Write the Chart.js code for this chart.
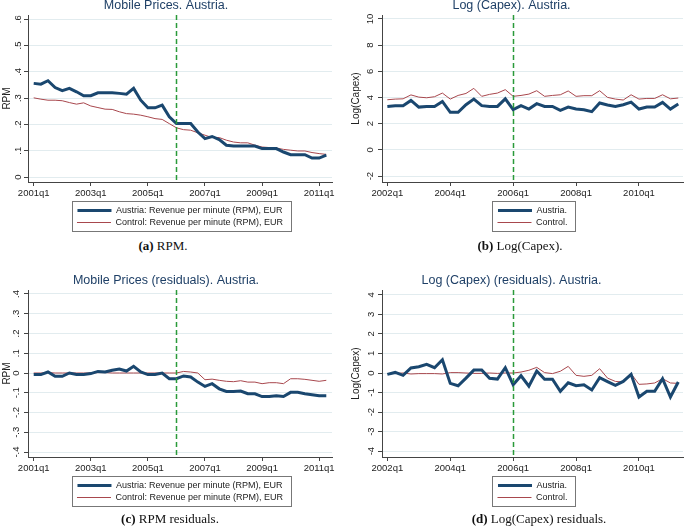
<!DOCTYPE html>
<html>
<head>
<meta charset="utf-8">
<script src="https://cdn.jsdelivr.net/npm/chart.js@4.4.0/dist/chart.umd.min.js"></script>
<style>
  body { margin: 0; background: #fff; width: 685px; height: 531px; overflow: hidden; position: relative; }
  .panel { position: absolute; }
  .cap { position: absolute; font-family: "Liberation Serif", "DejaVu Serif", serif; font-size: 13px; color: #111;
         transform: translate(-50%, -50%); white-space: nowrap; }
</style>
</head>
<body>
<div class="panel" style="left:0;top:-10px;width:342px;height:247px"><canvas id="chartA" data-wrap="260"></canvas></div>
<div class="panel" style="left:340px;top:-10px;width:345px;height:247px"><canvas id="chartB" data-wrap="110"></canvas></div>
<div class="panel" style="left:0;top:265px;width:342px;height:247px"><canvas id="chartC" data-wrap="260"></canvas></div>
<div class="panel" style="left:340px;top:265px;width:345px;height:247px"><canvas id="chartD" data-wrap="110"></canvas></div>

<div class="cap" style="left:163px;top:246px"><b>(a)</b> RPM.</div>
<div class="cap" style="left:520px;top:246px"><b>(b)</b> Log(Capex).</div>
<div class="cap" style="left:170px;top:519px"><b>(c)</b> RPM residuals.</div>
<div class="cap" style="left:539px;top:519px"><b>(d)</b> Log(Capex) residuals.</div>

<script>
// quarterly series, RPM panels start 2001q1, capex panels start 2002q1
const austriaRpm = [0.356, 0.353, 0.366, 0.340, 0.328, 0.337, 0.324, 0.309, 0.309, 0.320, 0.320, 0.320, 0.318, 0.315,
  0.337, 0.292, 0.263, 0.263, 0.273, 0.229, 0.203, 0.203, 0.203, 0.171, 0.146, 0.154, 0.142, 0.121, 0.118, 0.118,
  0.118, 0.118, 0.108, 0.108, 0.108, 0.095, 0.085, 0.085, 0.085, 0.072, 0.072, 0.083];
const controlRpm = [0.301, 0.296, 0.292, 0.292, 0.290, 0.283, 0.277, 0.282, 0.270, 0.264, 0.258, 0.257, 0.248, 0.241,
  0.239, 0.235, 0.229, 0.222, 0.219, 0.203, 0.187, 0.180, 0.178, 0.168, 0.159, 0.150, 0.150, 0.140, 0.133, 0.130,
  0.130, 0.121, 0.114, 0.112, 0.110, 0.105, 0.102, 0.099, 0.099, 0.093, 0.089, 0.086];

const austriaRpmRes = [-0.008, -0.008, 0.005, -0.017, -0.017, 0, -0.008, -0.008, -0.003, 0.008, 0.005, 0.014, 0.020, 0.010,
  0.034, 0.005, -0.008, -0.008, 0, -0.029, -0.029, -0.015, -0.020, -0.046, -0.068, -0.054, -0.080, -0.093, -0.093, -0.091,
  -0.105, -0.105, -0.119, -0.119, -0.115, -0.119, -0.098, -0.098, -0.105, -0.110, -0.115, -0.115];
const controlRpmRes = [0, 0, 0.002, 0, 0, 0, 0, 0, 0, 0.002, 0.002, 0, 0, 0, 0, 0, 0, 0, 0, 0,
  0, 0.008, 0.005, 0, -0.034, -0.031, -0.037, -0.042, -0.044, -0.039, -0.046, -0.046, -0.054, -0.049, -0.049, -0.054,
  -0.029, -0.029, -0.032, -0.037, -0.042, -0.037];

const austriaCapex = [3.32, 3.38, 3.38, 3.78, 3.27, 3.32, 3.32, 3.70, 2.87, 2.87, 3.45, 3.88, 3.38, 3.32, 3.32, 3.90,
  3.07, 3.38, 3.12, 3.53, 3.32, 3.32, 3.02, 3.27, 3.12, 3.07, 2.92, 3.58, 3.43, 3.32, 3.45, 3.65, 3.12, 3.27, 3.27,
  3.63, 3.12, 3.50];
const controlCapex = [3.83, 3.88, 3.90, 4.20, 4.03, 3.98, 4.06, 4.34, 3.88, 4.16, 4.31, 4.70, 4.09, 4.24, 4.34, 4.60,
  4.09, 4.16, 4.26, 4.52, 4.09, 4.16, 4.21, 4.50, 4.09, 4.14, 4.14, 4.52, 4.01, 3.88, 3.81, 4.21, 3.88, 3.93, 3.93,
  4.21, 3.90, 3.96];

const austriaCapexRes = [-0.07, 0.03, -0.12, 0.26, 0.32, 0.44, 0.27, 0.68, -0.53, -0.65, -0.26, 0.15, 0.15, -0.27, -0.31,
  0.27, -0.60, -0.14, -0.67, 0.10, -0.32, -0.32, -0.94, -0.50, -0.65, -0.60, -0.87, -0.24, -0.44, -0.63, -0.43, -0.07,
  -1.23, -0.94, -0.94, -0.29, -1.23, -0.46];
const controlCapexRes = [-0.03, -0.02, 0, -0.05, -0.03, -0.03, -0.03, -0.05, 0.02, 0.02, 0, -0.02, -0.02, 0, -0.02, 0,
  0, 0.05, 0.14, 0.29, 0.02, -0.03, 0.09, 0.34, -0.12, -0.17, -0.12, 0.22, -0.26, -0.43, -0.46, -0.03, -0.58, -0.56,
  -0.51, -0.29, -0.51, -0.53];

// x ticks (quarter index) and their labels
const rpmXTicks = [0, 8, 16, 24, 32, 40];
const rpmXLabels = ['2001q1', '2003q1', '2005q1', '2007q1', '2009q1', '2011q1'];
const capexXTicks = [0, 8, 16, 24, 32];
const capexXLabels = ['2002q1', '2004q1', '2006q1', '2008q1', '2010q1'];
const rpmTreat = 20;    // 2006q1
const capexTreat = 16;  // 2006q1

// y ticks
const rpmYTicks = [0, 0.1, 0.2, 0.3, 0.4, 0.5, 0.6];
const rpmYLabels = ['0', '.1', '.2', '.3', '.4', '.5', '.6'];
const capexYTicks = [-2, 0, 2, 4, 6, 8, 10];
const capexYLabels = ['-2', '0', '2', '4', '6', '8', '10'];
const rpmResYTicks = [-0.4, -0.3, -0.2, -0.1, 0, 0.1, 0.2, 0.3, 0.4];
const rpmResYLabels = ['-.4', '-.3', '-.2', '-.1', '0', '.1', '.2', '.3', '.4'];
const capexResYTicks = [-4, -3, -2, -1, 0, 1, 2, 3, 4];
const capexResYLabels = ['-4', '-3', '-2', '-1', '0', '1', '2', '3', '4'];

const rpmNames = ['Austria: Revenue per minute (RPM), EUR', 'Control: Revenue per minute (RPM), EUR'];
const capexNames = ['Austria.', 'Control.'];

const NAVY = '#1a476f';
const RED = '#a8474d';
const AXIS = '#444';
const FONT = '"Liberation Sans", Arial, sans-serif';

// stack legend items: wrap rows at the canvas' data-wrap width, not the full chart width
const LegendEl = Chart.Legend._element;
const wrapOf = lg => +(lg.chart.canvas.dataset.wrap || 0);
const fitRows = LegendEl.prototype._fitRows;
LegendEl.prototype._fitRows = function (...args) {
  const wrap = wrapOf(this);
  const saved = this.maxWidth;
  if (wrap) this.maxWidth = Math.min(saved, wrap);
  const h = fitRows.apply(this, args);
  this.maxWidth = saved;
  return h;
};
const drawLegend = LegendEl.prototype._draw;
LegendEl.prototype._draw = function () {
  const wrap = wrapOf(this);
  if (!wrap || !this.isHorizontal()) return drawLegend.call(this);
  const { left, right } = this;
  const mid = (left + right) / 2;
  const half = Math.min(wrap, right - left) / 2;
  this.left = mid - half;
  this.right = mid + half;
  drawLegend.call(this);
  this.left = left;
  this.right = right;
};

// Stata style frame around the legend
const legendFrame = {
  id: 'legendFrame',
  afterDraw(chart) {
    const boxes = chart.legend && chart.legend.legendHitBoxes;
    if (!boxes || !boxes.length) return;
    const l = Math.min(...boxes.map(b => b.left)) - 5;
    const r = Math.max(...boxes.map(b => b.left + b.width)) + 8;
    const t = Math.min(...boxes.map(b => b.top)) - 5;
    const btm = Math.max(...boxes.map(b => b.top + b.height)) + 4;
    const ctx = chart.ctx;
    ctx.save();
    ctx.strokeStyle = '#777';
    ctx.lineWidth = 1;
    ctx.strokeRect(Math.round(l) + 0.5, Math.round(t) + 0.5, Math.round(r - l), Math.round(btm - t));
    ctx.restore();
  }
};

// dashed treatment line
const treatLine = {
  id: 'treatLine',
  afterDatasetsDraw(chart, args, opts) {
    const { ctx, chartArea, scales } = chart;
    const px = Math.round(scales.x.getPixelForValue(opts.at)) + 0.5;
    ctx.save();
    ctx.strokeStyle = '#2a9a3a';
    ctx.lineWidth = 1.5;
    ctx.setLineDash([5, 3]);
    ctx.beginPath();
    ctx.moveTo(px, chartArea.top);
    ctx.lineTo(px, chartArea.bottom);
    ctx.stroke();
    ctx.restore();
  }
};

function makePanel(id, p) {
  const toXY = arr => arr.map((v, i) => ({ x: i, y: v }));
  return new Chart(document.getElementById(id), {
    type: 'line',
    data: {
      datasets: [
        { label: p.names[0], data: toXY(p.austria), borderColor: NAVY, backgroundColor: NAVY,
          borderWidth: 3, pointRadius: 0, tension: 0 },
        { label: p.names[1], data: toXY(p.control), borderColor: RED, backgroundColor: RED,
          borderWidth: 1, pointRadius: 0, tension: 0 }
      ]
    },
    options: {
      responsive: true,
      maintainAspectRatio: false,
      animation: false,
      layout: { padding: { left: 0, right: p.padRight, top: 0, bottom: 0 } },
      scales: {
        x: {
          type: 'linear',
          min: p.xMin,
          max: p.xMax,
          afterBuildTicks: s => { s.ticks = p.xTicks.map(v => ({ value: v })); },
          afterFit: s => { s.height = 21; },
          ticks: {
            callback: v => p.xLabels[p.xTicks.indexOf(v)],
            autoSkip: false, maxRotation: 0, padding: 2,
            font: { family: FONT, size: 9.5 }, color: '#222'
          },
          grid: { drawOnChartArea: false, drawTicks: true, tickLength: 4, tickColor: AXIS },
          border: { display: true, color: AXIS, width: 1 }
        },
        y: {
          min: p.yMin,
          max: p.yMax,
          afterBuildTicks: s => { s.ticks = p.yTicks.map(v => ({ value: v })); },
          afterFit: s => { s.width = p.axisWidth; },
          ticks: {
            callback: v => p.yLabels[p.yTicks.indexOf(v)],
            minRotation: 90, maxRotation: 90, crossAlign: 'center', padding: 2,
            font: { family: FONT, size: 9.5 }, color: '#222'
          },
          grid: { color: '#e2ecef', lineWidth: 1, drawTicks: true, tickLength: 4, tickColor: AXIS },
          border: { display: true, color: AXIS, width: 1 },
          title: {
            display: true, text: p.yTitle, color: '#222',
            font: { family: FONT, size: 10 }, padding: { top: p.yTitlePad, bottom: 0 }
          }
        }
      },
      plugins: {
        title: {
          display: true, text: p.title, color: '#1e3f66',
          font: { family: FONT, size: 12.5, weight: 'normal' },
          padding: { top: 8, bottom: 2 }
        },
        legend: {
          position: 'bottom',
          fullSize: false,
          labels: {
            usePointStyle: true, pointStyle: 'line', pointStyleWidth: 34, boxHeight: 9,
            padding: 3, color: '#222', font: { family: FONT, size: 9 }
          }
        },
        tooltip: { enabled: false },
        treatLine: { at: p.treat }
      }
    },
    plugins: [legendFrame, treatLine]
  });
}

makePanel('chartA', {
  title: 'Mobile Prices. Austria.', yTitle: 'RPM', names: rpmNames,
  austria: austriaRpm, control: controlRpm,
  xMin: -0.8, xMax: 41.8, xTicks: rpmXTicks, xLabels: rpmXLabels, treat: rpmTreat,
  yMin: -0.019, yMax: 0.616, yTicks: rpmYTicks, yLabels: rpmYLabels,
  axisWidth: 28, yTitlePad: 1, padRight: 10
});
makePanel('chartB', {
  title: 'Log (Capex). Austria.', yTitle: 'Log(Capex)', names: capexNames,
  austria: austriaCapex, control: controlCapex,
  xMin: -0.68, xMax: 37.6, xTicks: capexXTicks, xLabels: capexXLabels, treat: capexTreat,
  yMin: -2.45, yMax: 10.3, yTicks: capexYTicks, yLabels: capexYLabels,
  axisWidth: 42, yTitlePad: 10, padRight: 2
});
makePanel('chartC', {
  title: 'Mobile Prices (residuals). Austria.', yTitle: 'RPM', names: rpmNames,
  austria: austriaRpmRes, control: controlRpmRes,
  xMin: -0.8, xMax: 41.8, xTicks: rpmXTicks, xLabels: rpmXLabels, treat: rpmTreat,
  yMin: -0.425, yMax: 0.42, yTicks: rpmResYTicks, yLabels: rpmResYLabels,
  axisWidth: 28, yTitlePad: 1, padRight: 10
});
makePanel('chartD', {
  title: 'Log (Capex) (residuals). Austria.', yTitle: 'Log(Capex)', names: capexNames,
  austria: austriaCapexRes, control: controlCapexRes,
  xMin: -0.68, xMax: 37.6, xTicks: capexXTicks, xLabels: capexXLabels, treat: capexTreat,
  yMin: -4.3, yMax: 4.25, yTicks: capexResYTicks, yLabels: capexResYLabels,
  axisWidth: 42, yTitlePad: 10, padRight: 2
});
</script>
</body>
</html>
